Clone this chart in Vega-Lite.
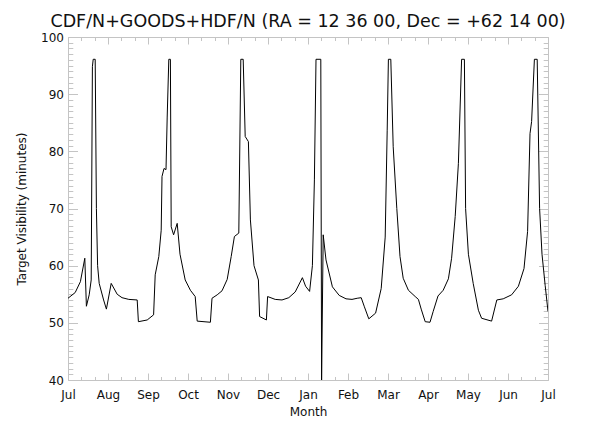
{
  "$schema": "https://vega.github.io/schema/vega-lite/v6.json",
  "width": 480,
  "height": 343,
  "autosize": {"type": "none"},
  "padding": {"left": 68, "top": 37, "right": 52, "bottom": 49},
  "background": "white",
  "config": {"view": {"stroke": null}},
  "title": {
    "text": "CDF/N+GOODS+HDF/N (RA = 12 36 00, Dec = +62 14 00)",
    "font": "DejaVu Sans",
    "fontSize": 17.5,
    "fontWeight": "normal",
    "color": "#111111",
    "anchor": "middle",
    "offset": 1
  },
  "data": {"values": [
    {"month": 0.00, "minutes": 54.3},
    {"month": 0.18, "minutes": 55.3},
    {"month": 0.31, "minutes": 57.2},
    {"month": 0.42, "minutes": 61.3},
    {"month": 0.46, "minutes": 52.9},
    {"month": 0.53, "minutes": 54.9},
    {"month": 0.58, "minutes": 57.5},
    {"month": 0.61, "minutes": 94.8},
    {"month": 0.63, "minutes": 96.1},
    {"month": 0.68, "minutes": 96.1},
    {"month": 0.71, "minutes": 70.0},
    {"month": 0.74, "minutes": 60.0},
    {"month": 0.78, "minutes": 56.9},
    {"month": 0.89, "minutes": 54.0},
    {"month": 0.96, "minutes": 52.4},
    {"month": 1.08, "minutes": 56.9},
    {"month": 1.23, "minutes": 55.0},
    {"month": 1.35, "minutes": 54.4},
    {"month": 1.52, "minutes": 54.1},
    {"month": 1.73, "minutes": 54.0},
    {"month": 1.76, "minutes": 50.2},
    {"month": 1.98, "minutes": 50.5},
    {"month": 2.14, "minutes": 51.4},
    {"month": 2.18, "minutes": 58.4},
    {"month": 2.27, "minutes": 61.6},
    {"month": 2.33, "minutes": 66.2},
    {"month": 2.35, "minutes": 75.6},
    {"month": 2.40, "minutes": 77.0},
    {"month": 2.45, "minutes": 76.8},
    {"month": 2.48, "minutes": 86.0},
    {"month": 2.52, "minutes": 96.1},
    {"month": 2.56, "minutes": 96.1},
    {"month": 2.58, "minutes": 66.8},
    {"month": 2.64, "minutes": 65.4},
    {"month": 2.73, "minutes": 67.4},
    {"month": 2.80, "minutes": 62.0},
    {"month": 2.93, "minutes": 57.5},
    {"month": 3.06, "minutes": 55.7},
    {"month": 3.18, "minutes": 54.6},
    {"month": 3.23, "minutes": 50.3},
    {"month": 3.56, "minutes": 50.1},
    {"month": 3.60, "minutes": 54.3},
    {"month": 3.73, "minutes": 54.9},
    {"month": 3.85, "minutes": 55.6},
    {"month": 3.98, "minutes": 57.6},
    {"month": 4.08, "minutes": 61.6},
    {"month": 4.16, "minutes": 65.1},
    {"month": 4.27, "minutes": 65.7},
    {"month": 4.32, "minutes": 96.1},
    {"month": 4.38, "minutes": 96.1},
    {"month": 4.43, "minutes": 82.6},
    {"month": 4.51, "minutes": 81.7},
    {"month": 4.56, "minutes": 68.0},
    {"month": 4.65, "minutes": 60.0},
    {"month": 4.76, "minutes": 57.5},
    {"month": 4.79, "minutes": 51.1},
    {"month": 4.96, "minutes": 50.5},
    {"month": 4.99, "minutes": 54.6},
    {"month": 5.18, "minutes": 54.1},
    {"month": 5.35, "minutes": 54.0},
    {"month": 5.52, "minutes": 54.4},
    {"month": 5.68, "minutes": 55.4},
    {"month": 5.86, "minutes": 57.9},
    {"month": 5.94, "minutes": 56.4},
    {"month": 6.04, "minutes": 55.5},
    {"month": 6.11, "minutes": 60.0},
    {"month": 6.16, "minutes": 75.0},
    {"month": 6.20, "minutes": 96.1},
    {"month": 6.32, "minutes": 96.1},
    {"month": 6.34, "minutes": 40.0},
    {"month": 6.38, "minutes": 65.4},
    {"month": 6.45, "minutes": 61.0},
    {"month": 6.61, "minutes": 56.3},
    {"month": 6.78, "minutes": 54.8},
    {"month": 6.95, "minutes": 54.2},
    {"month": 7.10, "minutes": 54.1},
    {"month": 7.23, "minutes": 54.3},
    {"month": 7.33, "minutes": 54.4},
    {"month": 7.41, "minutes": 52.8},
    {"month": 7.52, "minutes": 50.7},
    {"month": 7.69, "minutes": 51.7},
    {"month": 7.83, "minutes": 56.0},
    {"month": 7.93, "minutes": 65.0},
    {"month": 7.98, "minutes": 83.7},
    {"month": 8.01, "minutes": 96.1},
    {"month": 8.07, "minutes": 96.1},
    {"month": 8.13, "minutes": 80.8},
    {"month": 8.22, "minutes": 70.0},
    {"month": 8.30, "minutes": 61.6},
    {"month": 8.38, "minutes": 57.8},
    {"month": 8.51, "minutes": 55.7},
    {"month": 8.68, "minutes": 54.6},
    {"month": 8.76, "minutes": 54.1},
    {"month": 8.83, "minutes": 52.4},
    {"month": 8.93, "minutes": 50.2},
    {"month": 9.05, "minutes": 50.1},
    {"month": 9.13, "minutes": 52.0},
    {"month": 9.25, "minutes": 54.7},
    {"month": 9.38, "minutes": 55.7},
    {"month": 9.51, "minutes": 57.7},
    {"month": 9.59, "minutes": 61.3},
    {"month": 9.68, "minutes": 68.6},
    {"month": 9.76, "minutes": 77.9},
    {"month": 9.84, "minutes": 96.1},
    {"month": 9.91, "minutes": 96.1},
    {"month": 9.94, "minutes": 70.0},
    {"month": 10.01, "minutes": 62.0},
    {"month": 10.13, "minutes": 56.9},
    {"month": 10.26, "minutes": 52.2},
    {"month": 10.34, "minutes": 50.8},
    {"month": 10.59, "minutes": 50.3},
    {"month": 10.72, "minutes": 54.0},
    {"month": 10.88, "minutes": 54.2},
    {"month": 11.09, "minutes": 54.9},
    {"month": 11.26, "minutes": 56.4},
    {"month": 11.40, "minutes": 59.5},
    {"month": 11.49, "minutes": 66.0},
    {"month": 11.55, "minutes": 83.1},
    {"month": 11.59, "minutes": 85.2},
    {"month": 11.66, "minutes": 96.1},
    {"month": 11.73, "minutes": 96.1},
    {"month": 11.79, "minutes": 70.0},
    {"month": 11.85, "minutes": 62.0},
    {"month": 11.93, "minutes": 56.5},
    {"month": 12.00, "minutes": 52.0}
  ]},
  "layer": [
    {
      "mark": {"type": "line", "color": "black", "strokeWidth": 1, "clip": true, "interpolate": "linear"},
      "encoding": {
        "x": {
          "field": "month", "type": "quantitative",
          "scale": {"domain": [0, 12], "nice": false, "zero": false},
          "axis": {
            "orient": "bottom",
            "title": "Month",
            "titleFont": "DejaVu Sans", "titleFontSize": 12, "titleFontWeight": "normal", "titleColor": "#111111",
            "titlePadding": 3,
            "values": [0, 0.3333, 0.6667, 1, 1.3333, 1.6667, 2, 2.3333, 2.6667, 3, 3.3333, 3.6667, 4, 4.3333, 4.6667, 5, 5.3333, 5.6667, 6, 6.3333, 6.6667, 7, 7.3333, 7.6667, 8, 8.3333, 8.6667, 9, 9.3333, 9.6667, 10, 10.3333, 10.6667, 11, 11.3333, 11.6667, 12],
            "labelExpr": "datum.value % 1 === 0 ? ['Jul','Aug','Sep','Oct','Nov','Dec','Jan','Feb','Mar','Apr','May','Jun','Jul'][datum.value] : ''",
            "labelFont": "DejaVu Sans", "labelFontSize": 12, "labelColor": "#111111",
            "labelOverlap": false, "labelFlush": false,
            "labelPadding": 16,
            "tickSize": {"condition": {"test": "datum.value % 1 === 0", "value": -7}, "value": -3.5},
            "tickColor": "#c4c4c4", "domainColor": "#c4c4c4", "grid": false
          }
        },
        "y": {
          "field": "minutes", "type": "quantitative",
          "scale": {"domain": [40, 100], "nice": false, "zero": false},
          "axis": {
            "orient": "left",
            "title": "Target Visibility (minutes)",
            "titleFont": "DejaVu Sans", "titleFontSize": 12, "titleFontWeight": "normal", "titleColor": "#111111",
            "titlePadding": 12,
            "values": [40,41,42,43,44,45,46,47,48,49,50,51,52,53,54,55,56,57,58,59,60,61,62,63,64,65,66,67,68,69,70,71,72,73,74,75,76,77,78,79,80,81,82,83,84,85,86,87,88,89,90,91,92,93,94,95,96,97,98,99,100],
            "labelExpr": "datum.value % 10 === 0 ? datum.label : ''",
            "labelFont": "DejaVu Sans", "labelFontSize": 12, "labelColor": "#111111",
            "labelOverlap": false, "labelFlush": false,
            "labelPadding": 14,
            "tickSize": {"condition": {"test": "datum.value % 10 === 0", "value": -9.5}, "value": -4.8},
            "tickColor": "#c4c4c4", "domainColor": "#c4c4c4", "grid": false
          }
        }
      }
    },
    {
      "mark": {"type": "line", "opacity": 0},
      "encoding": {
        "x": {
          "field": "month", "type": "quantitative",
          "axis": {
            "orient": "top", "title": null, "labels": false,
            "values": [0, 0.3333, 0.6667, 1, 1.3333, 1.6667, 2, 2.3333, 2.6667, 3, 3.3333, 3.6667, 4, 4.3333, 4.6667, 5, 5.3333, 5.6667, 6, 6.3333, 6.6667, 7, 7.3333, 7.6667, 8, 8.3333, 8.6667, 9, 9.3333, 9.6667, 10, 10.3333, 10.6667, 11, 11.3333, 11.6667, 12],
            "tickSize": {"condition": {"test": "datum.value % 1 === 0", "value": -7}, "value": -3.5},
            "tickColor": "#c4c4c4", "domainColor": "#c4c4c4", "grid": false
          }
        },
        "y": {
          "field": "minutes", "type": "quantitative",
          "axis": {
            "orient": "right", "title": null, "labels": false,
            "values": [40,41,42,43,44,45,46,47,48,49,50,51,52,53,54,55,56,57,58,59,60,61,62,63,64,65,66,67,68,69,70,71,72,73,74,75,76,77,78,79,80,81,82,83,84,85,86,87,88,89,90,91,92,93,94,95,96,97,98,99,100],
            "tickSize": {"condition": {"test": "datum.value % 10 === 0", "value": -9.5}, "value": -4.8},
            "tickColor": "#c4c4c4", "domainColor": "#c4c4c4", "grid": false
          }
        }
      }
    }
  ],
  "resolve": {"axis": {"x": "independent", "y": "independent"}}
}
